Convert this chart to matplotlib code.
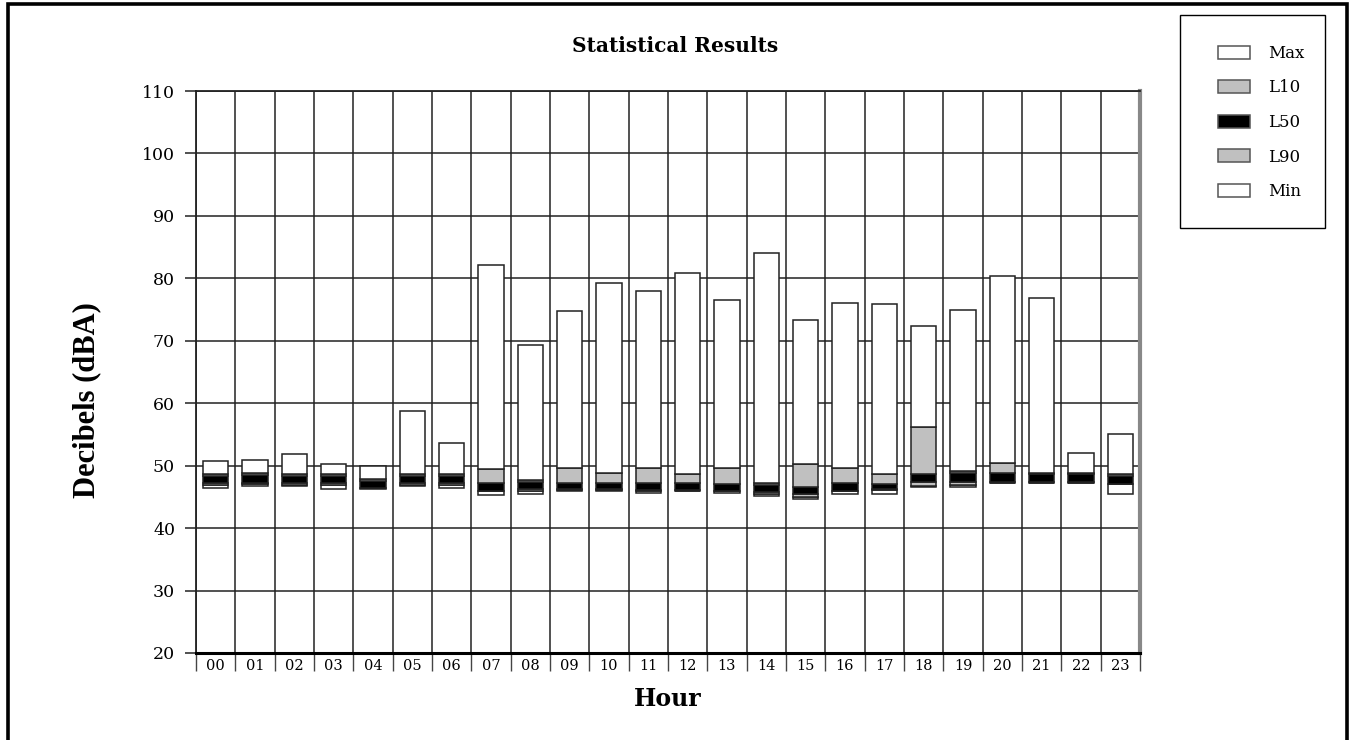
import numpy as np
import matplotlib.pyplot as plt
from matplotlib.patches import Rectangle

# data
hours = ['00', '01', '02', '03', '04', '05', '06', '07', '08', '09', '10', '11',
         '12', '13', '14', '15', '16', '17', '18', '19', '20', '21', '22', '23']
# bottom of each bar, then top edge of each stacked band
low = [46.4, 46.7, 46.7, 46.2, 46.3, 46.7, 46.4, 45.3, 45.4, 46.0, 46.0, 45.6,
       45.9, 45.6, 45.1, 44.6, 45.4, 45.4, 46.6, 46.6, 47.2, 47.2, 47.2, 45.4]
Min = [46.9, 47.0, 46.9, 46.9, 46.4, 46.9, 46.9, 45.9, 46.0, 46.1, 46.1, 46.0,
       46.0, 45.9, 45.5, 45.0, 45.9, 46.1, 46.7, 46.9, 47.3, 47.3, 47.3, 47.0]
L90 = [47.2, 47.3, 47.2, 47.2, 46.5, 47.2, 47.2, 46.0, 46.3, 46.2, 46.2, 46.1,
       46.1, 46.0, 45.8, 45.5, 46.0, 46.2, 47.4, 47.4, 47.4, 47.4, 47.4, 47.1]
L50 = [48.4, 48.5, 48.3, 48.3, 47.6, 48.3, 48.3, 47.2, 47.4, 47.2, 47.2, 47.2,
       47.2, 47.0, 46.9, 46.6, 47.2, 47.0, 48.6, 48.9, 48.8, 48.6, 48.6, 48.4]
L10 = [48.6, 48.8, 48.6, 48.6, 47.8, 48.6, 48.6, 49.5, 47.7, 49.6, 48.8, 49.6,
       48.6, 49.6, 47.2, 50.2, 49.6, 48.6, 56.2, 49.1, 50.4, 48.8, 48.8, 48.6]
Max = [50.7, 50.9, 51.8, 50.2, 49.9, 58.8, 53.6, 82.1, 69.3, 74.8, 79.2, 78.0,
       80.9, 76.6, 84.0, 73.3, 76.1, 75.9, 72.3, 74.9, 80.3, 76.8, 52.1, 55.0]
y_ticks = list(range(20, 111, 10))

gray = '#c0c0c0'
edge = '#222222'

fig = plt.figure(figsize=(13.56, 7.40), dpi=100)
ax = fig.add_axes([0.1445, 0.1176, 0.6962, 0.7594])

x = np.arange(len(hours))
w = 0.64
bands = [
    ('Min', low, Min, 'white'),
    ('L90', Min, L90, gray),
    ('L50', L90, L50, 'black'),
    ('L10', L50, L10, gray),
    ('Max', L10, Max, 'white'),
]
handles = {}
for name, lo, hi, col in bands:
    lo = np.array(lo)
    hi = np.array(hi)
    b = ax.bar(x, hi - lo, bottom=lo, width=w, color=col, edgecolor=edge,
               linewidth=1.1, zorder=3)
    handles[name] = b

ax.set_xlim(-0.5, len(hours) - 0.5)
ax.set_ylim(20, 110)
ax.set_yticks(y_ticks)
ax.set_yticklabels([str(t) for t in y_ticks], fontsize=12.5, family='DejaVu Serif')

# boundaries between hours carry the ticks and the vertical grid
ax.set_xticks(np.arange(-0.5, len(hours), 1.0))
ax.set_xticklabels([])
ax.set_xticks(x, minor=True)
ax.set_xticklabels(hours, minor=True, fontsize=10.5, family='DejaVu Serif')
ax.tick_params(axis='x', which='major', direction='out', length=13, width=1, color='#444')
ax.tick_params(axis='x', which='minor', length=0, pad=4)
ax.tick_params(axis='y', direction='out', length=8, width=1.2, pad=7, color='#333')

ax.grid(True, which='major', color=edge, linewidth=1.1, zorder=0)
ax.set_axisbelow(True)

for s in ['left', 'top']:
    ax.spines[s].set_color(edge)
    ax.spines[s].set_linewidth(1.3)
ax.spines['bottom'].set_color('black')
ax.spines['bottom'].set_linewidth(2.2)
ax.spines['right'].set_color('#888888')
ax.spines['right'].set_linewidth(3)

fig.text(0.498, 0.938, 'Statistical Results', ha='center', va='center',
         fontsize=14.5, fontweight='bold', family='DejaVu Serif')
ax.set_xlabel('Hour', fontsize=17, fontweight='bold', family='DejaVu Serif', labelpad=8)
ax.set_ylabel('Decibels (dBA)', fontsize=22, fontweight='bold',
              family='Liberation Serif')
ax.yaxis.set_label_coords(-0.100, 0.45)

# legend: frame drawn separately so the box matches the reference size
order = ['Max', 'L10', 'L50', 'L90', 'Min']
fig.add_artist(Rectangle((1180 / 1356, 1 - 228 / 740), 145 / 1356, 213 / 740,
                         transform=fig.transFigure, fill=True, facecolor='white',
                         edgecolor='black', linewidth=1.0))
leg = fig.legend([handles[n] for n in order], order, loc='upper left',
                 bbox_to_anchor=(1218 / 1356, 1 - 45 / 740),
                 prop={'family': 'DejaVu Serif', 'size': 12},
                 frameon=False, borderpad=0, labelspacing=1.05, handlelength=1.9,
                 handleheight=0.8, handletextpad=1.1, borderaxespad=0)
for p in leg.get_patches():
    p.set_edgecolor('#555555')

# outer frame round the whole chart
fig.add_artist(Rectangle((8 / 1356, -0.05), 1339 / 1356, 1.05 - 4 / 740,
                         transform=fig.transFigure, fill=False,
                         edgecolor='black', linewidth=2.6, clip_on=False))

fig.savefig('out.png', dpi=100)
